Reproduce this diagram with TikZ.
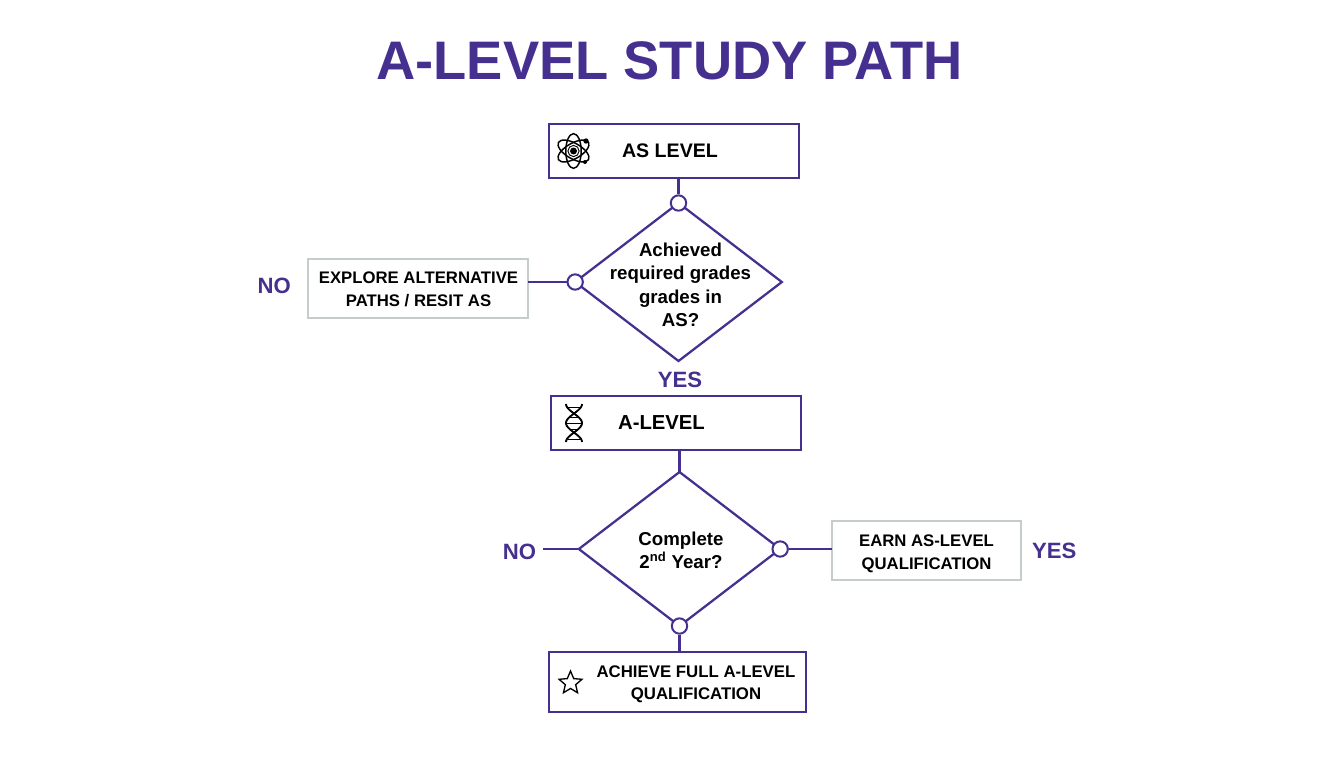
\documentclass[tikz,border=0pt]{standalone}
\usepackage{fontspec}
\setmainfont{Liberation Sans}
\usetikzlibrary{positioning,shapes.geometric}
\definecolor{pathpurple}{HTML}{46308F}
\definecolor{sidegrey}{HTML}{C6CCCC}
\tikzset{
	flowline/.style={draw=pathpurple, line width=1.7pt},
	stagebox/.style={draw=pathpurple, line width=1.7pt, fill=white, inner sep=0pt, outer sep=0pt},
	sidebox/.style={draw=sidegrey, line width=1.7pt, fill=white, inner sep=0pt, outer sep=0pt},
	decision/.style={diamond, draw=pathpurple, line width=1.7pt, fill=white, inner sep=0pt, outer sep=0pt},
	port/.style={circle, draw=pathpurple, line width=1.5pt, fill=white, inner sep=0pt, minimum size=11.5pt},
	boxtext/.style={font=\bfseries\fontsize{14.7}{18}\selectfont, text=black, align=center, inner sep=0pt},
	sidetext/.style={font=\bfseries\fontsize{12.55}{17.25}\selectfont, text=black, align=center, inner sep=0pt},
	asktext/.style={font=\bfseries\fontsize{14}{17.6}\selectfont, text=black, align=center, inner sep=0pt},
	answer/.style={font=\bfseries\fontsize{16.6}{18}\selectfont, text=pathpurple, inner sep=0pt},
	iconline/.style={draw=black, line width=1.1pt},
}
\begin{document}
\begin{tikzpicture}[x=0.75pt, y=-0.75pt]
	\useasboundingbox (0,0) rectangle (1344,768);
	\node[font=\bfseries\fontsize{40.7}{48}\selectfont, text=pathpurple, inner sep=0pt] (title) at (669.5,61) {A-LEVEL STUDY PATH};

	\node[stagebox, minimum width=188pt, minimum height=40pt] (asbox) at (674,151) {};
	\node[boxtext] (astext) at (670,151) {AS LEVEL};
	\node[decision, minimum width=155pt, minimum height=118.5pt] (askone) at (678.5,282) {};
	\node[asktext] (askonetext) at (680.5,285) {Achieved\\required grades\\grades in\\AS?};
	\node[port] (askonetop) at (askone.north) {};
	\node[port] (askoneleft) at (askone.west) {};
	\node[sidebox, minimum width=165pt, minimum height=44pt] (explore) at (418,288.5) {};
	\node[sidetext] (exploretext) at (418.5,289.5) {EXPLORE ALTERNATIVE\\PATHS / RESIT AS};
	\node[answer, left=12.75pt of explore, yshift=1.9pt] (nofirst) {NO};
	\node[answer] (yesfirst) at (680,379.5) {YES};

	\node[stagebox, minimum width=188pt, minimum height=40pt] (albox) at (676,423) {};
	\node[boxtext, font=\bfseries\fontsize{15.2}{18}\selectfont] (altext) at (661.5,423) {A-LEVEL};
	\node[decision, minimum width=151pt, minimum height=115.5pt] (asktwo) at (679.5,549) {};
	\node[asktext] (asktwotext) at (681,550.5) {Complete\\2\textsuperscript{nd} Year?};
	\node[port] (asktworight) at (asktwo.east) {};
	\node[port] (asktwobottom) at (asktwo.south) {};
	\node[sidebox, minimum width=141.5pt, minimum height=44pt] (earn) at (926.5,550.5) {};
	\node[sidetext] (earntext) at (926.5,553.5) {EARN AS-LEVEL\\QUALIFICATION};
	\node[answer, right=8.25pt of earn] (yessecond) {YES};
	\node[answer] (nosecond) at (519.5,551.5) {NO};
	\coordinate (noend) at (543,549);

	\node[stagebox, minimum width=192.5pt, minimum height=45pt] (fullbox) at (677.5,682) {};
	\node[boxtext, font=\bfseries\fontsize{12.6}{16.5}\selectfont] (fulltext) at (696,684) {ACHIEVE FULL A-LEVEL\\QUALIFICATION};

	\draw[flowline] (askonetop |- asbox.south) -- (askonetop);
	\draw[flowline] (explore.east |- askoneleft) -- (askoneleft);
	\draw[flowline] (asktwo.north |- albox.south) -- (asktwo.north);
	\draw[flowline] (noend) -- (asktwo.west);
	\draw[flowline] (asktworight) -- (earn.west |- asktworight);
	\draw[flowline] (asktwobottom) -- (asktwobottom |- fullbox.north);

	% icons
	\coordinate (atomc) at (573.5,151);
	\foreach \a in {30,90,150}
		\draw[iconline, rotate around={\a:(atomc)}] (atomc) ellipse (13pt and 5.8pt);
	\fill[white] (atomc) circle (4.4pt);
	\fill[black] (atomc) circle (2.6pt);
	\draw[iconline, line width=0.7pt] (atomc) circle (4.2pt);
	\fill[black] (586,141) circle (2pt);
	\fill[black] (585,162) circle (1.5pt);

	\draw[iconline, line width=1.4pt] plot[domain=0:38, samples=40] ({574+8*cos(\x*9.47)}, {404+\x});
	\draw[iconline, line width=1.4pt] plot[domain=0:38, samples=40] ({574-8*cos(\x*9.47)}, {404+\x});
	\foreach \y in {407,417,423,429,439}
		\draw[iconline, line width=0.6pt] ({574-7*abs(cos((\y-404)*9.47))},\y) -- ({574+7*abs(cos((\y-404)*9.47))},\y);

	\node[star, star points=5, star point ratio=2.2, draw=black, line width=1pt, minimum size=18pt, inner sep=0pt] (staricon) at (570.5,683) {};
\end{tikzpicture}
\end{document}
